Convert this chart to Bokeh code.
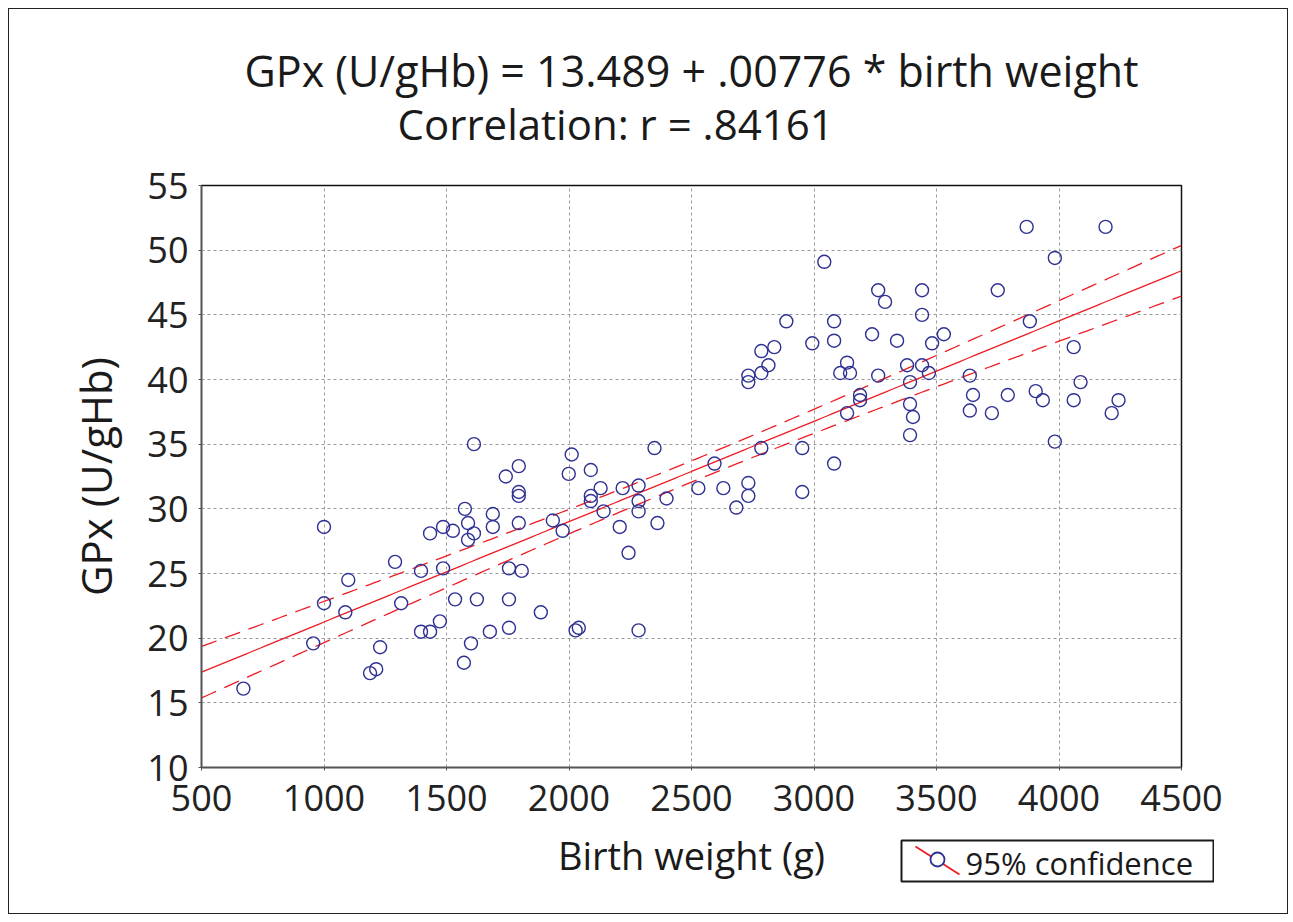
import numpy as np
from bokeh.plotting import figure
from bokeh.layouts import column, row
from bokeh.models import Title, FixedTicker, Range1d, Spacer
from bokeh.core.properties import value
from bokeh.embed import file_html
from bokeh.resources import INLINE

# Birth weight (g) and GPx (U/gHb)
birth_weight = [671, 956, 1000, 1000, 1087, 1099, 1188, 1213, 1229, 1290,
                1315, 1396, 1396, 1433, 1433, 1473, 1486, 1486, 1526, 1535,
                1575, 1571, 1588, 1588, 1600, 1612, 1612, 1624, 1677, 1689,
                1689, 1742, 1755, 1755, 1755, 1795, 1795, 1795, 1795, 1807,
                1885, 1934, 1974, 1999, 2011, 2027, 2040, 2089, 2089, 2089,
                2129, 2141, 2207, 2243, 2219, 2284, 2284, 2284, 2284, 2349,
                2361, 2398, 2528, 2594, 2630, 2683, 2732, 2732, 2732, 2732,
                2785, 2785, 2785, 2838, 2814, 2887, 2952, 2952, 2993, 3042,
                3082, 3082, 3082, 3107, 3135, 3147, 3135, 3188, 3188, 3237,
                3262, 3262, 3290, 3339, 3380, 3392, 3392, 3392, 3404, 3441,
                3441, 3441, 3469, 3482, 3530, 3636, 3636, 3649, 3726, 3750,
                3791, 3868, 3881, 3905, 3934, 3983, 3983, 4060, 4060, 4088,
                4190, 4215, 4243]
gpx = [16.1, 19.6, 22.7, 28.6, 22.0, 24.5, 17.3, 17.6, 19.3, 25.9,
       22.7, 25.2, 20.5, 28.1, 20.5, 21.3, 28.6, 25.4, 28.3, 23.0,
       30.0, 18.1, 28.9, 27.6, 19.6, 35.0, 28.1, 23.0, 20.5, 29.6,
       28.6, 32.5, 25.4, 23.0, 20.8, 33.3, 31.3, 31.0, 28.9, 25.2,
       22.0, 29.1, 28.3, 32.7, 34.2, 20.6, 20.8, 33.0, 31.0, 30.6,
       31.6, 29.8, 28.6, 26.6, 31.6, 31.8, 30.6, 29.8, 20.6, 34.7,
       28.9, 30.8, 31.6, 33.5, 31.6, 30.1, 32.0, 31.0, 40.3, 39.8,
       34.7, 40.5, 42.2, 42.5, 41.1, 44.5, 34.7, 31.3, 42.8, 49.1,
       44.5, 43.0, 33.5, 40.5, 41.3, 40.5, 37.4, 38.8, 38.4, 43.5,
       46.9, 40.3, 46.0, 43.0, 41.1, 39.8, 38.1, 35.7, 37.1, 46.9,
       45.0, 41.1, 40.5, 42.8, 43.5, 40.3, 37.6, 38.8, 37.4, 46.9,
       38.8, 51.8, 44.5, 39.1, 38.4, 49.4, 35.2, 38.4, 42.5, 39.8,
       51.8, 37.4, 38.4]

intercept = 13.489
slope = 0.00776
x_ticks = [500, 1000, 1500, 2000, 2500, 3000, 3500, 4000, 4500]
y_ticks = [10, 15, 20, 25, 30, 35, 40, 45, 50, 55]

title_1 = "GPx (U/gHb) = 13.489 + .00776 * birth weight"
title_2 = "Correlation: r = .84161"
legend_label = "95% confidence"

FONT = "Open Sans"
RED = "#ED1C24"
BLUE = "#2E3192"
INK = "#1a1a1a"

# regression line and 95% confidence band of the mean
xs = np.linspace(500, 4500, 200)
xa = np.array(birth_weight, dtype=float)
ya = np.array(gpx, dtype=float)
n = len(xa)
resid = ya - (intercept + slope * xa)
s = np.sqrt(np.sum(resid ** 2) / (n - 2))
sxx = np.sum((xa - xa.mean()) ** 2)
fit = intercept + slope * xs
half = 1.98 * s * np.sqrt(1.0 / n + (xs - xa.mean()) ** 2 / sxx)

p = figure(width=1280, height=906, output_backend="svg", toolbar_location=None,
           x_range=Range1d(500, 4500), y_range=Range1d(10, 55),
           min_border_left=192, min_border_right=108,
           min_border_top=176, min_border_bottom=148)
p.styles = {"border": "1px solid #222", "margin": "8px"}

p.outline_line_color = "#111111"
p.outline_line_width = 1.5

for ax in (p.xaxis, p.yaxis):
    ax.major_label_text_font = FONT
    ax.major_label_text_font_size = "36px"
    ax.major_label_text_color = "#222222"
    ax.axis_label_text_font = FONT
    ax.axis_label_text_font_style = "normal"
    ax.axis_label_text_color = INK
    ax.minor_tick_line_color = None
    ax.major_tick_in = 0
    ax.major_tick_out = 3
    ax.axis_line_color = "#555555"
    ax.axis_line_width = 1.5
    ax.major_tick_line_color = "#555555"

p.xaxis.ticker = FixedTicker(ticks=x_ticks)
p.yaxis.ticker = FixedTicker(ticks=y_ticks)
p.xaxis.axis_label = "Birth weight (g)"
p.yaxis.axis_label = "GPx (U/gHb)"
p.xaxis.axis_label_text_font_size = "38px"
p.yaxis.axis_label_text_font_size = "42px"
p.xaxis.major_label_standoff = 14
p.yaxis.major_label_standoff = 10
p.xaxis.axis_label_standoff = 15
p.yaxis.axis_label_standoff = 20

p.xgrid.grid_line_color = "#9a9a9a"
p.ygrid.grid_line_color = "#9a9a9a"
p.xgrid.grid_line_dash = "3 3"
p.ygrid.grid_line_dash = "3 3"
p.xgrid.grid_line_width = 1
p.ygrid.grid_line_width = 1

p.line(xs, fit + half, line_color=RED, line_width=1.3, line_dash="16 9")
p.line(xs, fit - half, line_color=RED, line_width=1.3, line_dash="16 9")
p.line(xs, fit, line_color=RED, line_width=1.3)
p.scatter(birth_weight, gpx, marker="circle", size=13, fill_color=None,
          line_color=BLUE, line_width=1.4)

# two title lines: the lower one is nearer the frame, the upper one is pulled down
p.add_layout(Title(text=title_2, align="left", offset=196,
                   text_font=FONT, text_font_size="42px", text_font_style="normal",
                   text_color=INK, standoff=68), "above")
p.add_layout(Title(text=title_1, align="center",
                   text_font=FONT, text_font_size="43px", text_font_style="normal",
                   text_color=INK, standoff=-83), "above")

# legend box drawn below the plot area, to the right of the x-axis title
lg = figure(width=314, height=46, output_backend="svg", toolbar_location=None,
            x_axis_type=None, y_axis_type=None,
            x_range=Range1d(0, 312), y_range=Range1d(0, 41),
            min_border_left=1, min_border_right=1,
            min_border_top=1, min_border_bottom=4)
lg.outline_line_color = "#1a1a1a"
lg.outline_line_width = 2
lg.segment(x0=[14], y0=[35], x1=[58], y1=[7], line_color=RED, line_width=1.8)
lg.scatter(x=[36], y=[22], marker="circle", size=14, fill_color="white",
           line_color=BLUE, line_width=1.8)
lg.text(x=[64], y=[19], text=[legend_label], text_font=value(FONT),
        text_font_size="31px", text_color=INK, text_baseline="middle",
        text_align="left")

legend_row = row(Spacer(width=900, height=46), lg)
legend_row.styles = {"margin-top": "-83px"}

layout = column(p, legend_row)
open("out.html", "w").write(file_html(layout, INLINE))
